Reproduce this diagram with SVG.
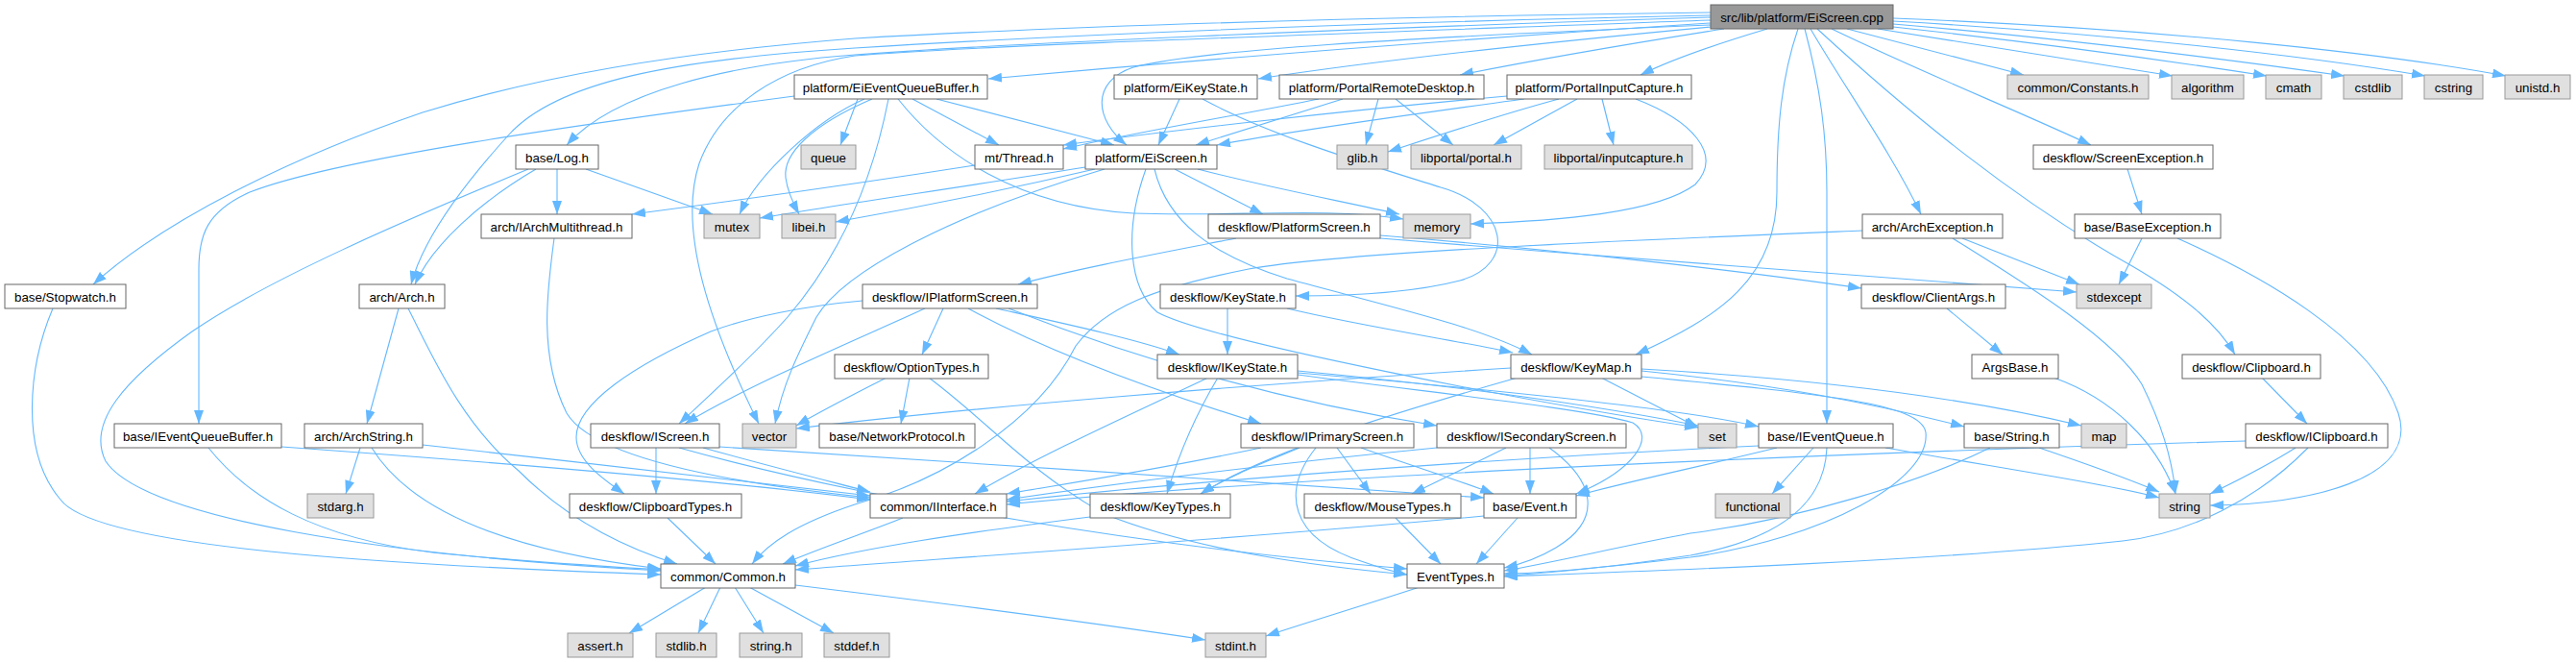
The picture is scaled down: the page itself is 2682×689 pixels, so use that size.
<svg xmlns="http://www.w3.org/2000/svg" width="2682" height="689" viewBox="0 0 2682 689">
<style>
.n rect{fill:#ffffff;stroke:#666666;stroke-width:1}
.g rect{fill:#e0e0e0;stroke:#999999;stroke-width:1}
.r rect{fill:#999999;stroke:#666666;stroke-width:1}
text{font-family:"Liberation Sans",Arial,Helvetica,sans-serif;font-size:13.33px;text-anchor:middle;fill:#000000}
#edges path{fill:none;stroke:#63b8ff;stroke-width:1.1;marker-end:url(#a)}
</style>
<defs>
<marker id="a" markerUnits="userSpaceOnUse" markerWidth="14" markerHeight="10" refX="14" refY="5" orient="auto">
<path d="M0,0 L14,5 L0,10 Z" fill="#63b8ff"/>
</marker>
</defs>
<rect width="2682" height="689" fill="#ffffff"/>
<g id="edges">
<path d="M1781,24 C1500,42 1250,62 1029,82"/>
<path d="M1781,28 C1600,45 1420,65 1310,82"/>
<path d="M1795,30 C1700,45 1600,62 1520,78"/>
<path d="M1840,30 C1790,45 1740,62 1708,78"/>
<path d="M1781,26 C1450,40 1250,52 1180,70 C1135,85 1140,125 1173,151"/>
<path d="M1781,18 C1400,30 1050,45 890,57 C760,67 640,95 590,151"/>
<path d="M1781,16 C1350,25 1050,40 890,50 C700,62 580,85 530,140 C480,195 440,250 428,296"/>
<path d="M1781,13 C1400,18 1100,28 890,40 C700,55 560,80 440,117 C300,165 170,230 97,296"/>
<path d="M1781,21 C1400,35 1000,48 890,58 C810,70 750,110 728,170 C705,240 740,340 790,441"/>
<path d="M1879,30 C1895,90 1902,140 1902,200 L1902,441"/>
<path d="M1872,30 C1855,80 1850,130 1850,200 C1850,290 1790,330 1703,369"/>
<path d="M1885,30 C1920,90 1970,160 2000,223"/>
<path d="M1907,30 C2000,75 2100,115 2177,151"/>
<path d="M1923,30 L2107,78"/>
<path d="M1892,30 C1990,120 2100,210 2220,277 C2280,312 2310,340 2327,369"/>
<path d="M1955,30 C2050,45 2150,62 2262,79"/>
<path d="M1971,28 C2100,42 2250,62 2360,79"/>
<path d="M1971,25 C2150,40 2320,62 2441,79"/>
<path d="M1971,22 C2200,35 2400,58 2525,79"/>
<path d="M1971,19 C2250,30 2480,55 2609,79"/>
<path d="M827,100 C600,130 350,165 260,200 C215,220 207,245 207,280 L207,441"/>
<path d="M893,103 L875,151"/>
<path d="M900,103 C850,125 790,180 770,223"/>
<path d="M908,103 C845,130 815,160 818,185 C820,200 826,212 832,223"/>
<path d="M950,103 L1040,151"/>
<path d="M975,103 L1160,151"/>
<path d="M935,103 C980,160 1060,215 1180,222 C1280,226 1380,215 1461,228"/>
<path d="M925,103 C910,180 880,260 820,330 C780,375 740,410 707,441"/>
<path d="M1228,103 L1206,151"/>
<path d="M1252,103 C1320,140 1420,170 1500,195 C1570,215 1580,275 1520,292 C1470,305 1400,308 1349,308"/>
<path d="M1398,103 L1245,151"/>
<path d="M1373,103 C1300,118 1180,138 1107,155"/>
<path d="M1435,103 L1422,151"/>
<path d="M1453,103 L1513,151"/>
<path d="M1587,103 C1500,115 1350,135 1267,151"/>
<path d="M1569,100 C1400,115 1200,138 1107,151"/>
<path d="M1623,103 C1560,120 1500,140 1445,158"/>
<path d="M1642,103 L1555,151"/>
<path d="M1668,103 L1680,151"/>
<path d="M1703,103 C1760,125 1795,160 1765,192 C1725,222 1620,230 1531,233"/>
<path d="M580,176 L580,223"/>
<path d="M610,176 L742,223"/>
<path d="M558,176 C500,210 450,255 432,296"/>
<path d="M550,176 C420,230 280,290 200,345 C130,395 90,440 110,480 C150,540 400,578 688,594"/>
<path d="M1015,172 C900,190 780,207 658,223"/>
<path d="M1130,174 C1000,195 880,212 791,227"/>
<path d="M1140,176 C1050,197 950,217 870,231"/>
<path d="M1247,176 C1320,195 1400,210 1457,223"/>
<path d="M1223,176 L1315,223"/>
<path d="M1202,176 C1215,230 1260,265 1340,290 C1450,320 1540,340 1595,369"/>
<path d="M1193,176 C1170,240 1175,300 1205,325 C1260,355 1600,420 1768,445"/>
<path d="M1150,176 C1000,220 880,280 850,330 C830,370 815,400 807,441"/>
<path d="M2215,176 L2230,223"/>
<path d="M2230,248 L2206,296"/>
<path d="M2267,248 C2350,285 2470,350 2497,430 C2520,500 2400,525 2301,526"/>
<path d="M577,248 C570,300 560,370 590,430 C620,480 780,505 906,518"/>
<path d="M1287,248 C1200,265 1120,280 1060,296"/>
<path d="M1437,245 C1600,258 1800,280 1938,300"/>
<path d="M1437,248 C1700,270 2000,290 2162,304"/>
<path d="M2043,248 L2165,296"/>
<path d="M2033,248 C2100,290 2200,350 2230,400 C2250,440 2262,480 2265,514"/>
<path d="M1939,240 C1700,250 1400,262 1300,280 C1200,300 1150,320 1120,360 C1080,440 980,500 890,525 C830,545 800,565 783,587"/>
<path d="M55,321 C30,380 20,470 63,520 C100,570 400,588 688,598"/>
<path d="M415,321 L382,441"/>
<path d="M425,321 C450,370 480,440 540,490 C590,540 650,570 705,587"/>
<path d="M898,313 C840,318 780,330 740,345 C660,380 600,420 600,455 C600,480 630,500 650,514"/>
<path d="M963,321 C900,350 780,400 713,441"/>
<path d="M982,321 L960,369"/>
<path d="M1037,321 C1100,335 1180,352 1228,369"/>
<path d="M1008,321 C1080,360 1180,400 1313,441"/>
<path d="M1050,321 C1200,380 1350,420 1496,443"/>
<path d="M1278,321 L1278,369"/>
<path d="M1340,321 C1420,340 1520,355 1575,367"/>
<path d="M2027,321 L2085,369"/>
<path d="M923,393 C890,410 860,425 829,443"/>
<path d="M947,393 L938,441"/>
<path d="M967,393 C1030,440 1070,490 1150,535 C1250,575 1380,590 1465,598"/>
<path d="M1258,393 C1180,430 1080,475 1015,514"/>
<path d="M1268,393 C1240,440 1225,480 1215,514"/>
<path d="M1351,386 C1500,400 1650,420 1768,443"/>
<path d="M1351,390 C1500,410 1650,425 1700,440 C1725,455 1700,490 1641,514"/>
<path d="M1351,388 C1550,405 1750,425 1831,444"/>
<path d="M1573,383 C1300,400 1000,425 829,446"/>
<path d="M1580,393 C1450,430 1320,470 1250,514"/>
<path d="M1667,393 L1768,445"/>
<path d="M1709,386 C1850,400 1950,420 2045,444"/>
<path d="M1709,384 C1900,395 2050,415 2167,443"/>
<path d="M1709,392 C1900,410 2000,420 2005,450 C2010,500 1900,560 1760,580 C1660,592 1600,597 1566,597"/>
<path d="M2138,393 C2200,415 2245,460 2265,514"/>
<path d="M2355,393 L2402,441"/>
<path d="M293,465 C500,480 750,500 906,520"/>
<path d="M217,466 C260,520 330,560 450,575 C550,585 640,590 688,593"/>
<path d="M375,466 L360,514"/>
<path d="M387,466 C420,520 500,570 688,592"/>
<path d="M440,463 C600,480 800,505 906,516"/>
<path d="M683,466 L683,514"/>
<path d="M732,466 C800,485 860,500 906,512"/>
<path d="M749,465 C1000,482 1300,500 1545,518"/>
<path d="M707,466 C900,520 1200,570 1465,592"/>
<path d="M1313,466 C1200,490 1100,505 1048,514"/>
<path d="M1353,466 C1320,480 1280,495 1250,514"/>
<path d="M1392,466 L1427,514"/>
<path d="M1417,466 C1470,485 1520,500 1555,514"/>
<path d="M1370,466 C1335,510 1340,560 1420,585 C1440,592 1450,595 1465,598"/>
<path d="M1496,466 C1300,485 1150,505 1048,520"/>
<path d="M1568,466 L1470,514"/>
<path d="M1593,466 L1593,514"/>
<path d="M1613,466 C1660,500 1670,540 1620,570 C1600,582 1580,588 1566,591"/>
<path d="M1831,464 C1500,480 1200,505 1048,522"/>
<path d="M1850,466 C1760,488 1700,500 1641,516"/>
<path d="M1888,466 L1845,514"/>
<path d="M1902,466 C1900,520 1860,560 1760,578 C1680,590 1620,596 1566,599"/>
<path d="M1963,466 C2100,490 2200,505 2248,518"/>
<path d="M2123,466 C2170,482 2220,500 2248,512"/>
<path d="M2072,466 C2003,500 1877,540 1760,555 C1680,570 1620,585 1566,594"/>
<path d="M2338,459 C1800,475 1300,500 1048,525"/>
<path d="M2390,466 C2360,485 2330,500 2301,514"/>
<path d="M2403,466 C2350,520 2280,555 2210,563 C2000,585 1700,595 1566,600"/>
<path d="M695,539 L745,587"/>
<path d="M940,539 C900,555 860,568 815,587"/>
<path d="M1135,538 C1000,555 900,570 828,589"/>
<path d="M1453,539 L1500,587"/>
<path d="M1580,539 L1537,587"/>
<path d="M1545,537 C1300,560 1000,580 828,593"/>
<path d="M735,611 L655,659"/>
<path d="M750,611 L727,659"/>
<path d="M765,611 L795,659"/>
<path d="M780,611 L868,659"/>
<path d="M828,609 C1000,630 1150,650 1255,666"/>
<path d="M1478,611 C1420,630 1360,648 1318,662"/>
</g>
<g id="root" class="r"><rect x="1781" y="5" width="190" height="25"/><text x="1876" y="22.5">src/lib/platform/EiScreen.cpp</text></g>
<g id="n-eqb" class="n"><rect x="827" y="78" width="201" height="25"/><text x="927.5" y="95.5">platform/EiEventQueueBuffer.h</text></g>
<g id="n-eks" class="n"><rect x="1160" y="78" width="149" height="25"/><text x="1234.5" y="95.5">platform/EiKeyState.h</text></g>
<g id="n-prd" class="n"><rect x="1332" y="78" width="213" height="25"/><text x="1438.5" y="95.5">platform/PortalRemoteDesktop.h</text></g>
<g id="n-pic" class="n"><rect x="1569" y="78" width="192" height="25"/><text x="1665" y="95.5">platform/PortalInputCapture.h</text></g>
<g id="n-con" class="g"><rect x="2090" y="78" width="147" height="25"/><text x="2163.5" y="95.5">common/Constants.h</text></g>
<g id="n-alg" class="g"><rect x="2261" y="78" width="75" height="25"/><text x="2298.5" y="95.5">algorithm</text></g>
<g id="n-cma" class="g"><rect x="2359" y="78" width="58" height="25"/><text x="2388" y="95.5">cmath</text></g>
<g id="n-csl" class="g"><rect x="2440" y="78" width="61" height="25"/><text x="2470.5" y="95.5">cstdlib</text></g>
<g id="n-cst" class="g"><rect x="2524" y="78" width="61" height="25"/><text x="2554.5" y="95.5">cstring</text></g>
<g id="n-uni" class="g"><rect x="2608" y="78" width="68" height="25"/><text x="2642" y="95.5">unistd.h</text></g>
<g id="n-log" class="n"><rect x="537" y="151" width="86" height="25"/><text x="580" y="168.5">base/Log.h</text></g>
<g id="n-que" class="g"><rect x="834" y="151" width="57" height="25"/><text x="862.5" y="168.5">queue</text></g>
<g id="n-thr" class="n"><rect x="1015" y="151" width="92" height="25"/><text x="1061" y="168.5">mt/Thread.h</text></g>
<g id="n-esh" class="n"><rect x="1130" y="151" width="137" height="25"/><text x="1198.5" y="168.5">platform/EiScreen.h</text></g>
<g id="n-glb" class="g"><rect x="1392" y="151" width="53" height="25"/><text x="1418.5" y="168.5">glib.h</text></g>
<g id="n-por" class="g"><rect x="1469" y="151" width="115" height="25"/><text x="1526.5" y="168.5">libportal/portal.h</text></g>
<g id="n-inc" class="g"><rect x="1608" y="151" width="154" height="25"/><text x="1685" y="168.5">libportal/inputcapture.h</text></g>
<g id="n-sex" class="n"><rect x="2117" y="151" width="187" height="25"/><text x="2210.5" y="168.5">deskflow/ScreenException.h</text></g>
<g id="n-iam" class="n"><rect x="501" y="223" width="157" height="25"/><text x="579.5" y="240.5">arch/IArchMultithread.h</text></g>
<g id="n-mut" class="g"><rect x="733" y="223" width="58" height="25"/><text x="762" y="240.5">mutex</text></g>
<g id="n-lei" class="g"><rect x="814" y="223" width="56" height="25"/><text x="842" y="240.5">libei.h</text></g>
<g id="n-pls" class="n"><rect x="1258" y="223" width="179" height="25"/><text x="1347.5" y="240.5">deskflow/PlatformScreen.h</text></g>
<g id="n-mem" class="g"><rect x="1461" y="223" width="70" height="25"/><text x="1496" y="240.5">memory</text></g>
<g id="n-aex" class="n"><rect x="1939" y="223" width="146" height="25"/><text x="2012" y="240.5">arch/ArchException.h</text></g>
<g id="n-bex" class="n"><rect x="2160" y="223" width="152" height="25"/><text x="2236" y="240.5">base/BaseException.h</text></g>
<g id="n-stw" class="n"><rect x="5" y="296" width="126" height="25"/><text x="68" y="313.5">base/Stopwatch.h</text></g>
<g id="n-arc" class="n"><rect x="374" y="296" width="89" height="25"/><text x="418.5" y="313.5">arch/Arch.h</text></g>
<g id="n-ips" class="n"><rect x="898" y="296" width="182" height="25"/><text x="989" y="313.5">deskflow/IPlatformScreen.h</text></g>
<g id="n-kst" class="n"><rect x="1208" y="296" width="141" height="25"/><text x="1278.5" y="313.5">deskflow/KeyState.h</text></g>
<g id="n-cla" class="n"><rect x="1938" y="296" width="150" height="25"/><text x="2013" y="313.5">deskflow/ClientArgs.h</text></g>
<g id="n-sxc" class="g"><rect x="2162" y="296" width="78" height="25"/><text x="2201" y="313.5">stdexcept</text></g>
<g id="n-opt" class="n"><rect x="869" y="369" width="160" height="25"/><text x="949" y="386.5">deskflow/OptionTypes.h</text></g>
<g id="n-iks" class="n"><rect x="1205" y="369" width="146" height="25"/><text x="1278" y="386.5">deskflow/IKeyState.h</text></g>
<g id="n-kmp" class="n"><rect x="1573" y="369" width="136" height="25"/><text x="1641" y="386.5">deskflow/KeyMap.h</text></g>
<g id="n-arg" class="n"><rect x="2053" y="369" width="90" height="25"/><text x="2098" y="386.5">ArgsBase.h</text></g>
<g id="n-clp" class="n"><rect x="2272" y="369" width="144" height="25"/><text x="2344" y="386.5">deskflow/Clipboard.h</text></g>
<g id="n-ieb" class="n"><rect x="119" y="441" width="174" height="25"/><text x="206" y="458.5">base/IEventQueueBuffer.h</text></g>
<g id="n-ast" class="n"><rect x="317" y="441" width="123" height="25"/><text x="378.5" y="458.5">arch/ArchString.h</text></g>
<g id="n-isc" class="n"><rect x="615" y="441" width="134" height="25"/><text x="682" y="458.5">deskflow/IScreen.h</text></g>
<g id="n-vec" class="g"><rect x="773" y="441" width="56" height="25"/><text x="801" y="458.5">vector</text></g>
<g id="n-net" class="n"><rect x="853" y="441" width="162" height="25"/><text x="934" y="458.5">base/NetworkProtocol.h</text></g>
<g id="n-ipr" class="n"><rect x="1292" y="441" width="180" height="25"/><text x="1382" y="458.5">deskflow/IPrimaryScreen.h</text></g>
<g id="n-iss" class="n"><rect x="1496" y="441" width="197" height="25"/><text x="1594.5" y="458.5">deskflow/ISecondaryScreen.h</text></g>
<g id="n-set" class="g"><rect x="1768" y="441" width="40" height="25"/><text x="1788" y="458.5">set</text></g>
<g id="n-ieq" class="n"><rect x="1831" y="441" width="140" height="25"/><text x="1901" y="458.5">base/IEventQueue.h</text></g>
<g id="n-str" class="n"><rect x="2045" y="441" width="99" height="25"/><text x="2094.5" y="458.5">base/String.h</text></g>
<g id="n-map" class="g"><rect x="2167" y="441" width="47" height="25"/><text x="2190.5" y="458.5">map</text></g>
<g id="n-icl" class="n"><rect x="2338" y="441" width="148" height="25"/><text x="2412" y="458.5">deskflow/IClipboard.h</text></g>
<g id="n-sda" class="g"><rect x="320" y="514" width="69" height="25"/><text x="354.5" y="531.5">stdarg.h</text></g>
<g id="n-cbt" class="n"><rect x="593" y="514" width="179" height="25"/><text x="682.5" y="531.5">deskflow/ClipboardTypes.h</text></g>
<g id="n-iin" class="n"><rect x="906" y="514" width="142" height="25"/><text x="977" y="531.5">common/IInterface.h</text></g>
<g id="n-kty" class="n"><rect x="1135" y="514" width="146" height="25"/><text x="1208" y="531.5">deskflow/KeyTypes.h</text></g>
<g id="n-mty" class="n"><rect x="1358" y="514" width="163" height="25"/><text x="1439.5" y="531.5">deskflow/MouseTypes.h</text></g>
<g id="n-evt" class="n"><rect x="1545" y="514" width="96" height="25"/><text x="1593" y="531.5">base/Event.h</text></g>
<g id="n-fun" class="g"><rect x="1786" y="514" width="78" height="25"/><text x="1825" y="531.5">functional</text></g>
<g id="n-stg" class="g"><rect x="2248" y="514" width="53" height="25"/><text x="2274.5" y="531.5">string</text></g>
<g id="n-com" class="n"><rect x="688" y="587" width="140" height="25"/><text x="758" y="604.5">common/Common.h</text></g>
<g id="n-ety" class="n"><rect x="1465" y="587" width="101" height="25"/><text x="1515.5" y="604.5">EventTypes.h</text></g>
<g id="n-asr" class="g"><rect x="591" y="659" width="68" height="25"/><text x="625" y="676.5">assert.h</text></g>
<g id="n-slb" class="g"><rect x="683" y="659" width="63" height="25"/><text x="714.5" y="676.5">stdlib.h</text></g>
<g id="n-srh" class="g"><rect x="770" y="659" width="65" height="25"/><text x="802.5" y="676.5">string.h</text></g>
<g id="n-sdf" class="g"><rect x="858" y="659" width="68" height="25"/><text x="892" y="676.5">stddef.h</text></g>
<g id="n-sdi" class="g"><rect x="1255" y="659" width="63" height="25"/><text x="1286.5" y="676.5">stdint.h</text></g>
</svg>
